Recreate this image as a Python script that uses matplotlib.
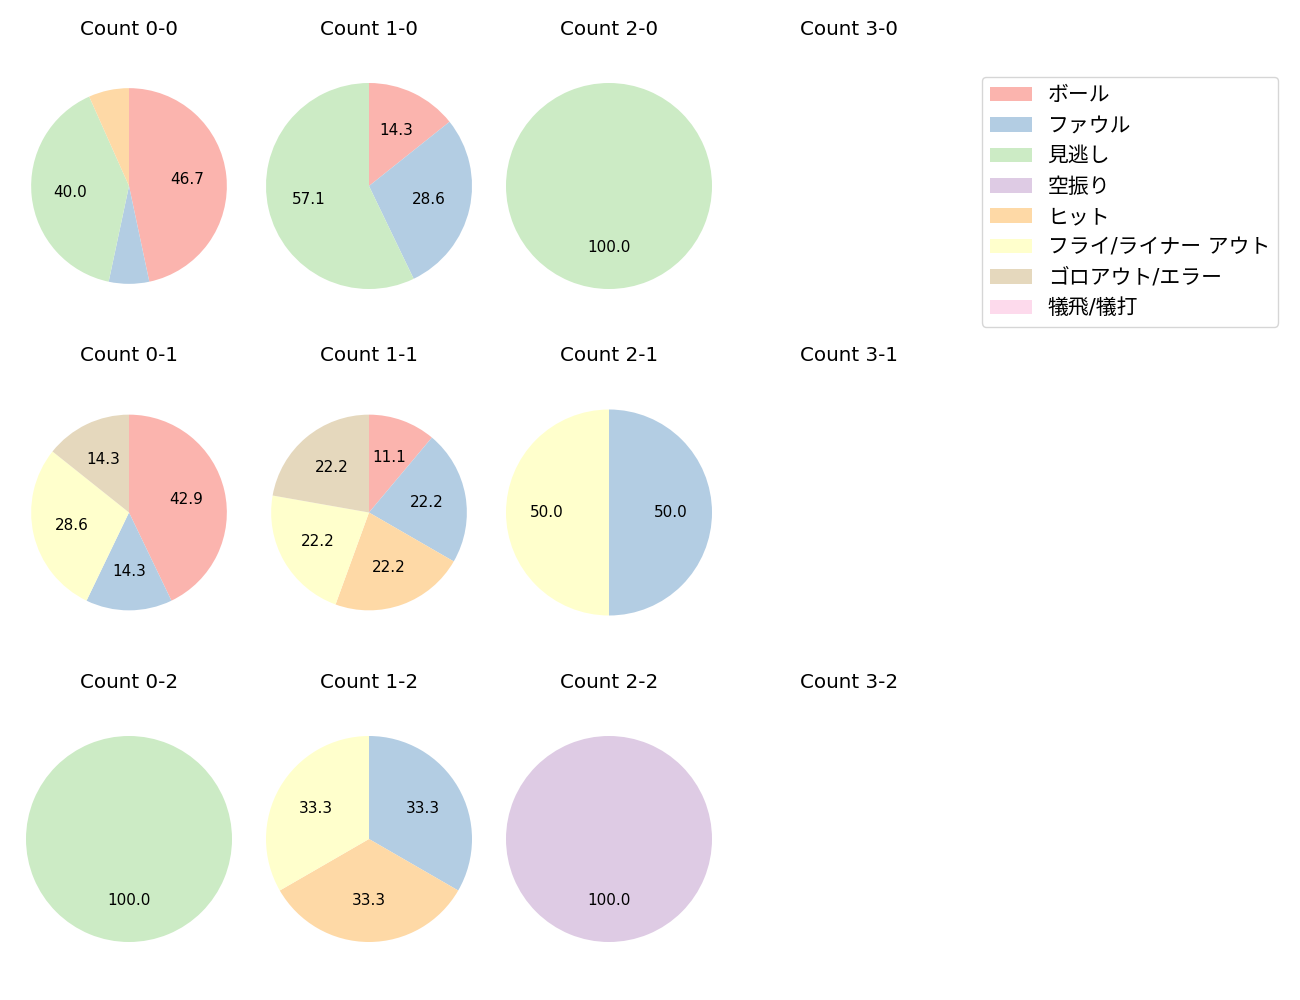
import matplotlib
matplotlib.use("Agg")
import matplotlib.pyplot as plt
from matplotlib.patches import Patch

plt.rcParams['font.family'] = ['DejaVu Sans', 'Noto Sans CJK JP']

# 結果の種類と色 (Pastel1)
categories = ["ボール", "ファウル", "見逃し", "空振り", "ヒット",
              "フライ/ライナー アウト", "ゴロアウト/エラー", "犠飛/犠打"]
colors = plt.get_cmap("Pastel1").colors[:8]

balls = [0, 1, 2, 3]
strikes = [0, 1, 2]

# カウントごとの件数 (categories と同じ順番)
counts = {
    (0, 0): [7, 1, 6, 0, 1, 0, 0, 0],
    (1, 0): [1, 2, 4, 0, 0, 0, 0, 0],
    (2, 0): [0, 0, 1, 0, 0, 0, 0, 0],
    (3, 0): [],
    (0, 1): [3, 1, 0, 0, 0, 2, 1, 0],
    (1, 1): [1, 2, 0, 0, 2, 2, 2, 0],
    (2, 1): [0, 1, 0, 0, 0, 1, 0, 0],
    (3, 1): [],
    (0, 2): [0, 0, 1, 0, 0, 0, 0, 0],
    (1, 2): [0, 1, 0, 0, 1, 1, 0, 0],
    (2, 2): [0, 0, 0, 1, 0, 0, 0, 0],
    (3, 2): [],
}

fig = plt.figure(figsize=(13, 10), dpi=100)

W, H = 1300, 1000
r_px = 103
ax_w, ax_h = 230, 280

for s in strikes:
    for b in balls:
        cx = 129 + 240 * b
        cy = 186 + 326.5 * s
        ax = fig.add_axes([(cx - ax_w / 2) / W, 1 - (cy + ax_h / 2) / H, ax_w / W, ax_h / H])
        ax.set_title(f"Count {b}-{s}", fontsize=14.3, pad=8)
        ax.axis("off")
        vals = counts[(b, s)]
        if sum(vals) > 0:
            data = [(v, c) for v, c in zip(vals, colors) if v > 0]
            radius = 0.95 if len(data) >= 4 else 1.0
            ax.pie([d[0] for d in data], colors=[d[1] for d in data],
                   startangle=90, counterclock=False, radius=radius,
                   autopct=lambda p: f"{p:.1f}" if p >= 10 else "",
                   textprops={"fontsize": 11})
        ax.set_xlim(-ax_w / 2 / r_px, ax_w / 2 / r_px)
        ax.set_ylim(-ax_h / 2 / r_px, ax_h / 2 / r_px)
        ax.set_aspect("equal")

handles = [Patch(facecolor=c, label=n) for n, c in zip(categories, colors)]
fig.legend(handles=handles, loc="upper left", bbox_to_anchor=(982 / W, 1 - 77 / H),
           borderaxespad=0, fontsize=15, labelspacing=0.5,
           handlelength=2.0, handletextpad=0.75)

fig.savefig("out.png")
